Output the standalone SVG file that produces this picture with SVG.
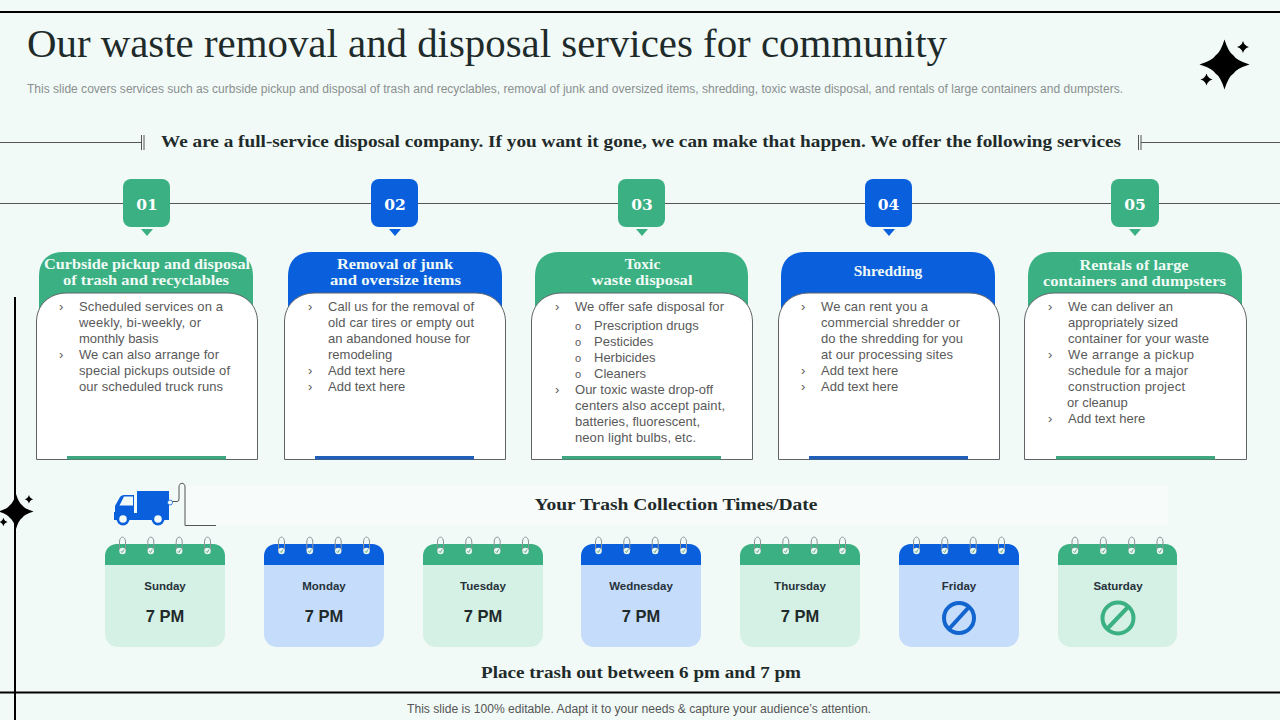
<svg xmlns="http://www.w3.org/2000/svg" width="1280" height="720" viewBox="0 0 1280 720">
<style>
.hd{font-family:"Liberation Serif","DejaVu Serif",serif;font-weight:700;fill:#1f2a2a}
.ct{font-family:"Liberation Serif","DejaVu Serif",serif;font-weight:700;fill:#f0fbf6;font-size:15.5px;text-anchor:middle}
.num{font-family:"DejaVu Serif","Liberation Serif",serif;font-weight:700;fill:#fff;font-size:15.5px;text-anchor:middle}
.b{font-family:"Liberation Sans",Arial,sans-serif;font-size:13px;fill:#595959;transform:translateY(-.6px)}
.day{font-family:"Liberation Sans",Arial,sans-serif;font-size:11.5px;font-weight:700;fill:#26323a;text-anchor:middle}
.pm{font-family:"Liberation Sans",Arial,sans-serif;font-size:16.5px;font-weight:700;fill:#1f2a2a;text-anchor:middle}
.g{fill:#3BB083}.bl{fill:#0A5FDD}
.line{stroke:#555;stroke-width:1;fill:none}
.card{fill:#fff;stroke:#5f6368;stroke-width:1}
.ring{fill:none;stroke:#8a9499;stroke-width:1}
.hole{fill:#e8f5f0}
.tick{fill:none;stroke:#3a8f70;stroke-width:.8}
</style>
<defs>
<path id="star" d="M0 -25 Q4 -12 9 -9 Q12 -4 25 0 Q12 4 9 9 Q4 12 0 25 Q-4 12 -9 9 Q-12 4 -25 0 Q-12 -4 -9 -9 Q-4 -12 0 -25Z" fill="#000"/>
<g id="sparkle"><use href="#star"/><use href="#star" transform="translate(18.5 -17.5) scale(.24)"/><use href="#star" transform="translate(-18 15) scale(.24)"/></g>
<g id="r1"><path class="ring" d="M-3 0V-9C-3 -15.500 3 -15.500 3 -9V0"/><circle class="hole" r="3.200"/><path class="tick" d="M-1.500 0.300L-.3 1.500L1.500 -1.500"/></g>
<g id="rings"><use href="#r1"/><use href="#r1" x="28.300"/><use href="#r1" x="56.700"/><use href="#r1" x="85"/></g>
</defs>
<rect width="1280" height="720" fill="#F1FAF7"/>

<g id="frame" stroke="#000" fill="none">
<path d="M0 12H1280" stroke-width="2"/>
<path d="M0 692.500H1280" stroke-width="2"/>
<path d="M15 297V720" stroke-width="2"/>
</g>
<use href="#sparkle" x="1224.500" y="64.500"/>
<use href="#sparkle" transform="translate(16 511.500) scale(.7)"/>

<text id="title" class="hd" x="27" y="57" font-size="39" style="font-weight:400" textLength="920" lengthAdjust="spacingAndGlyphs">Our waste removal and disposal services for community</text>
<text id="subtitle" x="27" y="92.500" font-family="Liberation Sans,Arial,sans-serif" font-size="12" fill="#8a8f8f" textLength="1096" lengthAdjust="spacingAndGlyphs">This slide covers services such as curbside pickup and disposal of trash and recyclables, removal of junk and oversized items, shredding, toxic waste disposal, and rentals of large containers and dumpsters.</text>

<g id="connectors">
<path class="line" d="M0 142.500H141.500M141.500 135V150M144 135V150"/>
<path class="line" d="M1280 142.500H1141M1141 135V150M1138.500 135V150"/>
<path class="line" d="M0 203.500H1280"/>
<path class="line" d="M172 501.500H177Q179 501.500 179 499V487C179 482 185 482 185 487V525.500H216"/>
</g>
<text id="tagline" class="hd" x="161" y="147" font-size="17" textLength="960" lengthAdjust="spacingAndGlyphs">We are a full-service disposal company. If you want it gone, we can make that happen. We offer the following services</text>

<g id="node-01">
<rect class="g" x="123" y="179" width="47" height="48" rx="8"/><path class="g" d="M141 229H153L147 236Z"/>
<text class="num" x="147" y="210">01</text>
<path class="g" d="M39 310V276C39 260 49 252 63 252H229C243 252 253 260 253 276V310Z"/>
<text class="ct" x="147" y="269" textLength="206" lengthAdjust="spacingAndGlyphs">Curbside pickup and disposal</text>
<text class="ct" x="146" y="285" textLength="166" lengthAdjust="spacingAndGlyphs">of trash and recyclables</text>
<path class="card" d="M36.500 459.500V322C36.500 305 49 293 67 293H227C245 293 257.500 305 257.500 322V459.500Z"/>
<rect x="67" y="456" width="159" height="3.500" fill="#3FA67F"/>
<g class="b"><text x="59" y="312">›</text><text x="79" y="312" textLength="144">Scheduled services on a</text><text x="79" y="328" textLength="122">weekly, bi-weekly, or</text><text x="79" y="344">monthly basis</text><text x="59" y="360">›</text><text x="79" y="360" textLength="140">We can also arrange for</text><text x="79" y="376" textLength="151">special pickups outside of</text><text x="79" y="392" textLength="144">our scheduled truck runs</text></g>
</g>

<g id="node-02">
<rect class="bl" x="371" y="179" width="47" height="48" rx="8"/><path class="bl" d="M389 229H401L395 236Z"/>
<text class="num" x="395" y="210">02</text>
<path class="bl" d="M288 310V276C288 260 298 252 312 252H478C492 252 502 260 502 276V310Z"/>
<text class="ct" x="395" y="269" textLength="116" lengthAdjust="spacingAndGlyphs">Removal of junk</text>
<text class="ct" x="395.500" y="285" textLength="131" lengthAdjust="spacingAndGlyphs">and oversize items</text>
<path class="card" d="M284.500 459.500V322C284.500 305 297 293 315 293H475C493 293 505.500 305 505.500 322V459.500Z"/>
<rect x="315" y="456" width="159" height="3.500" fill="#1F5FB8"/>
<g class="b"><text x="308" y="312">›</text><text x="328" y="312" textLength="146">Call us for the removal of</text><text x="328" y="328" textLength="146">old car tires or empty out</text><text x="328" y="344" textLength="142">an abandoned house for</text><text x="328" y="360">remodeling</text><text x="308" y="376">›</text><text x="328" y="376">Add text here</text><text x="308" y="392">›</text><text x="328" y="392">Add text here</text></g>
</g>

<g id="node-03">
<rect class="g" x="618" y="179" width="47" height="48" rx="8"/><path class="g" d="M636 229H648L642 236Z"/>
<text class="num" x="642" y="210">03</text>
<path class="g" d="M535 310V276C535 260 545 252 559 252H724C738 252 748 260 748 276V310Z"/>
<text class="ct" x="642.500" y="269">Toxic</text>
<text class="ct" x="642" y="285" textLength="101" lengthAdjust="spacingAndGlyphs">waste disposal</text>
<path class="card" d="M531.500 459.500V322C531.500 305 544 293 562 293H722C740 293 752.500 305 752.500 322V459.500Z"/>
<rect x="562" y="456" width="159" height="3.500" fill="#3FA67F"/>
<g class="b"><text x="555" y="312">›</text><text x="575" y="312" textLength="149">We offer safe disposal for</text>
<text x="575" y="331" font-size="11">o</text><text x="594" y="331">Prescription drugs</text>
<text x="575" y="347" font-size="11">o</text><text x="594" y="347">Pesticides</text>
<text x="575" y="363" font-size="11">o</text><text x="594" y="363">Herbicides</text>
<text x="575" y="379" font-size="11">o</text><text x="594" y="379">Cleaners</text>
<text x="555" y="395">›</text><text x="575" y="395" textLength="138">Our toxic waste drop-off</text><text x="575" y="411" textLength="150">centers also accept paint,</text><text x="575" y="427" textLength="125">batteries, fluorescent,</text><text x="575" y="443" textLength="121">neon light bulbs, etc.</text></g>
</g>

<g id="node-04">
<rect class="bl" x="865" y="179" width="47" height="48" rx="8"/><path class="bl" d="M883 229H895L889 236Z"/>
<text class="num" x="888.500" y="210">04</text>
<path class="bl" d="M781 310V276C781 260 791 252 805 252H971C985 252 995 260 995 276V310Z"/>
<text class="ct" x="888" y="276">Shredding</text>
<path class="card" d="M778.500 459.500V322C778.500 305 791 293 809 293H969C987 293 999.500 305 999.500 322V459.500Z"/>
<rect x="809" y="456" width="159" height="3.500" fill="#1F5FB8"/>
<g class="b"><text x="801" y="312">›</text><text x="821" y="312" textLength="107">We can rent you a</text><text x="821" y="328" textLength="139">commercial shredder or</text><text x="821" y="344" textLength="142">do the shredding for you</text><text x="821" y="360" textLength="132">at our processing sites</text><text x="801" y="376">›</text><text x="821" y="376">Add text here</text><text x="801" y="392">›</text><text x="821" y="392">Add text here</text></g>
</g>

<g id="node-05">
<rect class="g" x="1111" y="179" width="48" height="48" rx="8"/><path class="g" d="M1129 229H1141L1135 236Z"/>
<text class="num" x="1135" y="210">05</text>
<path class="g" d="M1028 310V276C1028 260 1038 252 1052 252H1218C1232 252 1242 260 1242 276V310Z"/>
<text class="ct" x="1134" y="270" textLength="109" lengthAdjust="spacingAndGlyphs">Rentals of large</text>
<text class="ct" x="1134.500" y="286" textLength="183" lengthAdjust="spacingAndGlyphs">containers and dumpsters</text>
<path class="card" d="M1024.500 459.500V322C1024.500 305 1037 293 1055 293H1217C1235 293 1246.500 305 1246.500 322V459.500Z"/>
<rect x="1056" y="456" width="159" height="3.500" fill="#3FA67F"/>
<g class="b"><text x="1048" y="312">›</text><text x="1068" y="312" textLength="105">We can deliver an</text><text x="1068" y="328" textLength="110">appropriately sized</text><text x="1068" y="344" textLength="141">container for your waste</text><text x="1048" y="360">›</text><text x="1068" y="360" textLength="126">We arrange a pickup</text><text x="1068" y="376" textLength="120">schedule for a major</text><text x="1068" y="392" textLength="117">construction project</text><text x="1067" y="408">or cleanup</text><text x="1048" y="424">›</text><text x="1068" y="424">Add text here</text></g>
</g>

<rect id="band" x="186" y="486" width="982" height="39" fill="#F7FCFA"/>
<text id="band-label" class="hd" x="676" y="510" font-size="17" text-anchor="middle" textLength="283" lengthAdjust="spacingAndGlyphs">Your Trash Collection Times/Date</text>

<g id="truck" class="bl">
<rect x="137" y="491" width="32" height="22"/>
<path d="M134 495H124C122 495 121 496 120 497L115 506V512H114V520H169V513H134Z"/>
<path d="M124 496.500H133V505.500H119.500Z" fill="#F1FAF7"/>
<circle cx="123" cy="519" r="6.500" fill="#0A5FDD"/><circle cx="123" cy="519" r="3.800" fill="#F1FAF7"/>
<circle cx="158" cy="519" r="6.500" fill="#0A5FDD"/><circle cx="158" cy="519" r="3.800" fill="#F1FAF7"/>
<circle cx="170" cy="502.500" r="2.500" fill="#F1FAF7" stroke="#0A5FDD" stroke-width=".8"/>
</g>

<g id="cal-sun">
<rect x="105" y="544" width="120" height="103" rx="13" fill="#D5F0E4"/><path class="g" d="M105 565V556C105 549 110 544 117 544H213C220 544 225 549 225 556V565Z"/>
<use href="#rings" x="122.500" y="551"/>
<text class="day" x="165" y="590">Sunday</text><text class="pm" x="165" y="622">7 PM</text>
</g>
<g id="cal-mon">
<rect x="264" y="544" width="120" height="103" rx="13" fill="#C5DCFB"/><path class="bl" d="M264 565V556C264 549 269 544 276 544H372C379 544 384 549 384 556V565Z"/>
<use href="#rings" x="281.500" y="551"/>
<text class="day" x="324" y="590">Monday</text><text class="pm" x="324" y="622">7 PM</text>
</g>
<g id="cal-tue">
<rect x="423" y="544" width="120" height="103" rx="13" fill="#D5F0E4"/><path class="g" d="M423 565V556C423 549 428 544 435 544H531C538 544 543 549 543 556V565Z"/>
<use href="#rings" x="440.500" y="551"/>
<text class="day" x="483" y="590">Tuesday</text><text class="pm" x="483" y="622">7 PM</text>
</g>
<g id="cal-wed">
<rect x="581" y="544" width="120" height="103" rx="13" fill="#C5DCFB"/><path class="bl" d="M581 565V556C581 549 586 544 593 544H689C696 544 701 549 701 556V565Z"/>
<use href="#rings" x="598.500" y="551"/>
<text class="day" x="641" y="590">Wednesday</text><text class="pm" x="641" y="622">7 PM</text>
</g>
<g id="cal-thu">
<rect x="740" y="544" width="120" height="103" rx="13" fill="#D5F0E4"/><path class="g" d="M740 565V556C740 549 745 544 752 544H848C855 544 860 549 860 556V565Z"/>
<use href="#rings" x="757.500" y="551"/>
<text class="day" x="800" y="590">Thursday</text><text class="pm" x="800" y="622">7 PM</text>
</g>
<g id="cal-fri">
<rect x="899" y="544" width="120" height="103" rx="13" fill="#C5DCFB"/><path class="bl" d="M899 565V556C899 549 904 544 911 544H1007C1014 544 1019 549 1019 556V565Z"/>
<use href="#rings" x="916.500" y="551"/>
<text class="day" x="959" y="590">Friday</text>
<circle cx="959" cy="618" r="15" fill="none" stroke="#1264CE" stroke-width="4"/><path d="M949 629L969 607" stroke="#1264CE" stroke-width="4"/>
</g>
<g id="cal-sat">
<rect x="1058" y="544" width="119" height="103" rx="13" fill="#D5F0E4"/><path class="g" d="M1058 565V556C1058 549 1063 544 1070 544H1165C1172 544 1177 549 1177 556V565Z"/>
<use href="#rings" x="1075" y="551"/>
<text class="day" x="1118" y="590">Saturday</text>
<circle cx="1118" cy="618" r="15.500" fill="none" stroke="#3BB083" stroke-width="4"/><path d="M1107 629L1128 607" stroke="#3BB083" stroke-width="4"/>
</g>

<text id="place" class="hd" x="641" y="678" font-size="17" text-anchor="middle" textLength="320" lengthAdjust="spacingAndGlyphs">Place trash out between 6 pm and 7 pm</text>
<text id="footer" x="639" y="713" font-family="Liberation Sans,Arial,sans-serif" font-size="12" fill="#555" text-anchor="middle" textLength="464" lengthAdjust="spacingAndGlyphs">This slide is 100% editable. Adapt it to your needs &amp; capture your audience’s attention.</text>
</svg>
